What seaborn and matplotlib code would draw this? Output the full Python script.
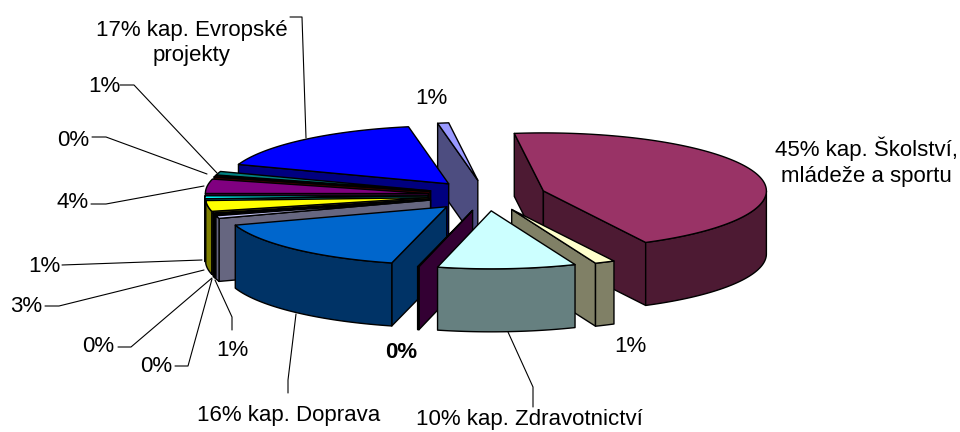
import numpy as np
import seaborn as sns
import matplotlib.pyplot as plt
from matplotlib.patches import Polygon

shares = [44.5, 1.45, 10.0, 0.1, 15.9, 0.75, 0.3, 0.3, 3.0, 0.8, 4.0, 0.4, 1.0, 16.7, 0.8]
slice_colors = ['#993366', '#FFFFCC', '#CCFFFF', '#660066', '#0066CC', '#CCCCFF', '#000080', '#FF00FF',
                '#FFFF00', '#00FFFF', '#800080', '#800000', '#008080', '#0000FF', '#9999FF']
label_texts = ['45% kap. Školství,\nmládeže a sportu', '1%', '10% kap. Zdravotnictví', '0%', '16% kap. Doprava',
               '1%', '0%', '0%', '3%', '1%', '4%', '0%', '1%', '17% kap. Evropské\nprojekty', '1%']

# pie geometry in pixels, measured on the picture
cx, cy = 487, 195.5
rx, ry = 223, 58
depth = 63
explode = 0.265
start = -97.5

label_pos = [(866, 162), (630, 347), (529, 419), (401, 353), (289, 415),
             (232, 351), (156, 367), (98, 346), (26, 307), (44, 266),
             (73, 203), (73, 140), (104, 86), (192, 43), (431, 99)]
leaders = [None, None,
           [(533, 407), (533, 387), (508, 332)],
           None,
           [(288, 393), (288, 380), (296, 314)],
           [(232, 330), (232, 317), (215, 280)],
           [(175, 366), (188, 366), (212, 279)],
           [(118, 347), (131, 347), (212, 278)],
           [(45, 306), (59, 306), (204, 270)],
           [(62, 265), (202, 260)],
           [(91, 204), (106, 204), (204, 186)],
           [(92, 137), (106, 137), (207, 174)],
           [(120, 85), (134, 85), (217, 173)],
           [(290, 17), (302, 17), (306, 138)],
           None]

sns.set_theme(style='white')
plt.rcParams['font.family'] = ['Liberation Sans', 'DejaVu Sans']
palette = sns.color_palette(slice_colors)

fig = plt.figure(figsize=(9.6, 4.32), dpi=100)
ax = fig.add_axes([0, 0, 1, 1])
ax.set_xlim(0, 960)
ax.set_ylim(432, 0)
ax.axis('off')

edges = start + np.cumsum([0] + shares) * 3.6


def rim(ox, oy, t1, t2):
    t = np.radians(np.linspace(t1, t2, max(int(abs(t2 - t1)) * 2, 2)))
    return np.column_stack([ox + rx * np.cos(t), oy + ry * np.sin(t)])


def face(pts, color, z):
    ax.add_patch(Polygon(pts, closed=True, facecolor=color, edgecolor='black', lw=1.0, zorder=z, joinstyle='round'))


def radial_face(ox, oy, t, color, z):
    tip = rim(ox, oy, t, t)[0]
    face([(ox, oy), tip, (tip[0], tip[1] + depth), (ox, oy + depth)], color, z)


mids = (edges[:-1] + edges[1:]) / 2
# back slices first
order = np.argsort(np.sin(np.radians(mids)))
z = 2
for i in order:
    t1, t2, mid = edges[i], edges[i + 1], np.radians(mids[i])
    ox = cx + explode * rx * np.cos(mid)
    oy = cy + explode * ry * np.sin(mid)
    top = palette[i]
    side = tuple(np.array(top) * 0.5)
    if np.cos(np.radians(t1)) < 0:
        radial_face(ox, oy, t1, side, z)
        z += 1
    if np.cos(np.radians(t2)) > 0:
        radial_face(ox, oy, t2, side, z)
        z += 1
    a, b = max(t1, 0), min(t2, 180)
    if b > a:
        arc = rim(ox, oy, a, b)
        low = arc[::-1] + [0, depth]
        face(np.vstack([arc, low]), side, z)
        z += 1
    face(np.vstack([[(ox, oy)], rim(ox, oy, t1, t2)]), top, z)
    z += 1

for i, txt in enumerate(label_texts):
    x, y = label_pos[i]
    ax.text(x, y, txt, ha='center', va='center', fontsize=16, color='black', linespacing=1.3,
            fontweight='bold' if i == 3 else 'normal', zorder=100)
    if leaders[i] is not None:
        xs, ys = zip(*leaders[i])
        ax.plot(xs, ys, color='black', lw=0.8, zorder=99)

fig.savefig('out.png', dpi=100)
